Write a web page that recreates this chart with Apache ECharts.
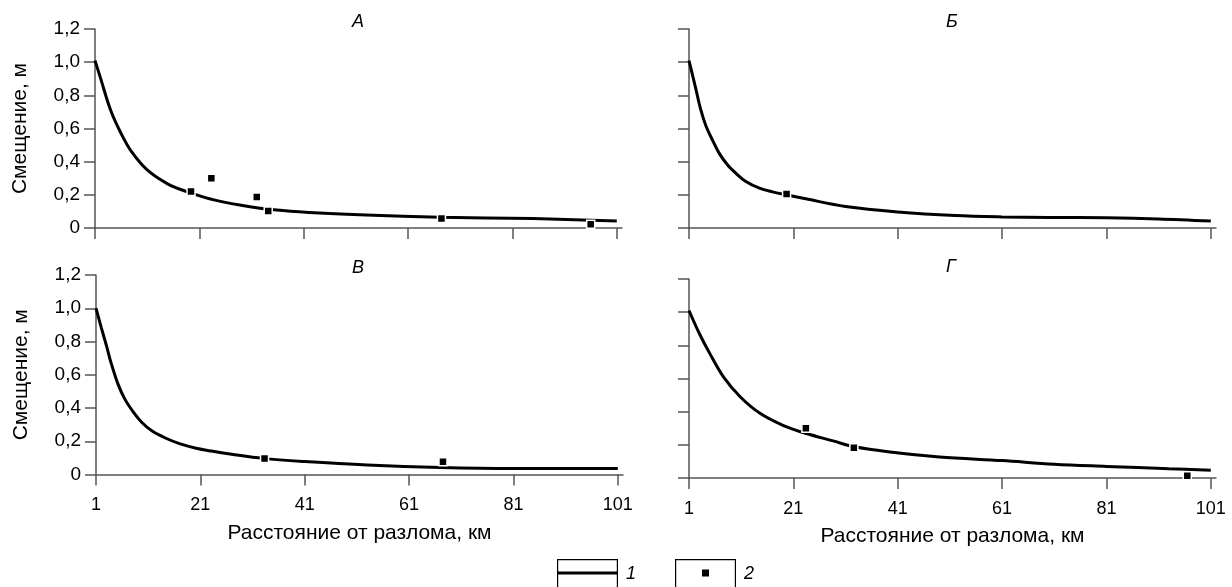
<!DOCTYPE html>
<html>
<head>
<meta charset="utf-8">
<script src="https://cdn.jsdelivr.net/npm/echarts@6/dist/echarts.min.js"></script>
<style>html,body{margin:0;padding:0;background:#fff}#c{width:1232px;height:587px}</style>
</head>
<body>
<div id="c"></div>
<script>
// ---- data ----
var xTicks = [1, 21, 41, 61, 81, 101];
var yTicks = [0, 0.2, 0.4, 0.6, 0.8, 1.0, 1.2];
var panelTitles = ['А', 'Б', 'В', 'Г'];
var xName = 'Расстояние от разлома, км';
var yName = 'Смещение, м';
var legendNames = ['1', '2'];

var curveA_x = [1, 2, 4, 6, 8, 11, 15, 19, 24, 31, 37, 44, 53, 67, 85, 101];
var curveA_y = [1.01, 0.91, 0.71, 0.57, 0.46, 0.35, 0.265, 0.215, 0.168, 0.127, 0.105, 0.09, 0.078, 0.065, 0.057, 0.042];
var pointsA_x = [19.4, 23.3, 32, 34.2, 67.4, 96];
var pointsA_y = [0.22, 0.30, 0.187, 0.103, 0.057, 0.022];

var curveB_x = [1, 2.3, 3.2, 4.2, 5.5, 6.8, 8.4, 10, 11.9, 14.5, 17, 19.7, 23.4, 31, 41, 52, 61, 70, 81, 91, 101];
var curveB_y = [1.01, 0.84, 0.72, 0.62, 0.53, 0.45, 0.38, 0.33, 0.28, 0.24, 0.218, 0.2, 0.176, 0.13, 0.097, 0.075, 0.067, 0.064, 0.062, 0.055, 0.042];
var pointsB_x = [19.7];
var pointsB_y = [0.205];

var curveC_x = [1, 2, 3, 3.9, 5.2, 6.5, 8.2, 9.8, 11.7, 14.4, 17, 20.2, 23.1, 27, 33, 41, 53, 67, 81, 101];
var curveC_y = [1.0, 0.885, 0.775, 0.67, 0.545, 0.455, 0.374, 0.313, 0.263, 0.218, 0.186, 0.158, 0.141, 0.122, 0.097, 0.078, 0.057, 0.042, 0.036, 0.036];
var pointsC_x = [33.3, 67.5];
var pointsC_y = [0.096, 0.076];

var curveD_x = [1, 3, 5, 7.6, 10.8, 14.6, 19, 23.5, 28.6, 32.5, 39.5, 49, 61, 71, 81, 93, 101];
var curveD_y = [1.01, 0.87, 0.75, 0.61, 0.49, 0.39, 0.318, 0.268, 0.224, 0.19, 0.157, 0.127, 0.105, 0.083, 0.07, 0.056, 0.047];
var pointsD_x = [23.4, 32.6, 96.5];
var pointsD_y = [0.30, 0.183, 0.014];

// ---- helpers ----
function zip(xs, ys) { return xs.map(function (x, i) { return [x, ys[i]]; }); }
var FF = '"Liberation Sans", Arial, sans-serif';
var AX = '#555';

var grids = [
  { left: 95, top: 29, width: 527, height: 199 },
  { left: 689, top: 29, width: 527, height: 199 },
  { left: 96, top: 275, width: 527, height: 199.5 },
  { left: 689, top: 279, width: 527, height: 199 }
];
grids.forEach(function (g) { g.outerBoundsMode = 'none'; g.containLabel = false; });

function xAx(gi, showLabel) {
  return {
    type: 'value', gridIndex: gi, min: 1, max: 102,
    axisLine: { show: true, onZero: false, lineStyle: { color: AX, width: 1.5 } },
    axisTick: { show: true, inside: false, length: 11, customValues: xTicks, lineStyle: { color: AX, width: 1.5 } },
    axisLabel: { show: showLabel, customValues: xTicks, margin: 22, fontSize: 18, color: '#000', fontFamily: FF },
    splitLine: { show: false },
    name: showLabel ? xName : '', nameLocation: 'middle', nameGap: 48,
    nameTextStyle: { fontSize: 21, color: '#000', fontFamily: FF }
  };
}
function yAx(gi, showLabel) {
  return {
    type: 'value', gridIndex: gi, min: 0, max: 1.2, interval: 0.2,
    axisLine: { show: true, onZero: false, lineStyle: { color: AX, width: 1.5 } },
    axisTick: { show: true, inside: false, length: 11, lineStyle: { color: AX, width: 1.5 } },
    axisLabel: {
      show: showLabel, margin: 15, fontSize: 19, color: '#000', fontFamily: FF,
      formatter: function (v) { return v === 0 ? '0' : v.toFixed(1).replace('.', ','); }
    },
    splitLine: { show: false },
    name: showLabel ? yName : '', nameLocation: 'middle', nameGap: 64,
    nameTextStyle: { fontSize: 21, color: '#000', fontFamily: FF }
  };
}

var curves = [zip(curveA_x, curveA_y), zip(curveB_x, curveB_y), zip(curveC_x, curveC_y), zip(curveD_x, curveD_y)];
var points = [zip(pointsA_x, pointsA_y), zip(pointsB_x, pointsB_y), zip(pointsC_x, pointsC_y), zip(pointsD_x, pointsD_y)];

var series = [];
for (var i = 0; i < 4; i++) {
  series.push({
    name: legendNames[0], type: 'line', xAxisIndex: i, yAxisIndex: i, data: curves[i],
    smooth: 0.35, showSymbol: false, symbol: 'none',
    lineStyle: { color: '#000', width: 3 }, itemStyle: { color: '#000' }, z: 2, silent: true
  });
  series.push({
    name: legendNames[1], type: 'scatter', xAxisIndex: i, yAxisIndex: i, data: points[i],
    symbol: 'rect', symbolSize: 8,
    itemStyle: { color: '#000', borderColor: '#fff', borderWidth: 1.5, opacity: 1 }, z: 3, silent: true
  });
}

var titleLefts = [352, 946, 352, 946];
var titleTops = [13, 13, 259, 258];
var titles = panelTitles.map(function (t, i) {
  return { text: t, left: titleLefts[i], top: titleTops[i], padding: 0,
    textStyle: { fontSize: 18, fontStyle: 'italic', fontWeight: 'normal', color: '#000', fontFamily: FF } };
});

var iconLine = 'path://M0 0H61V30H0Z M1.2 1.2V28.8H59.8V1.2Z M0 12.5H61V15.5H0Z';
var iconSq = 'path://M0 0H61V30H0Z M1.2 1.2V28.8H59.8V1.2Z M27 10.5H34V17.5H27Z';

var option = {
  animation: false,
  backgroundColor: '#fff',
  title: titles,
  grid: grids,
  xAxis: [xAx(0, false), xAx(1, false), xAx(2, true), xAx(3, true)],
  yAxis: [yAx(0, true), yAx(1, false), yAx(2, true), yAx(3, false)],
  legend: {
    left: 557, top: 559, padding: 0, itemWidth: 61, itemHeight: 30, itemGap: 39,
    symbolKeepAspect: false, selectedMode: false,
    textStyle: { fontSize: 18, fontStyle: 'italic', color: '#000', fontFamily: FF, padding: [0, 0, 0, 3] },
    data: [
      { name: legendNames[0], icon: iconLine, itemStyle: { color: '#000', borderWidth: 0, opacity: 1 } },
      { name: legendNames[1], icon: iconSq, itemStyle: { color: '#000', borderWidth: 0, opacity: 1 } }
    ]
  },
  series: series
};
var chart = echarts.init(document.getElementById('c'), null, { renderer: 'canvas' });
chart.setOption(option);
</script>
</body>
</html>
